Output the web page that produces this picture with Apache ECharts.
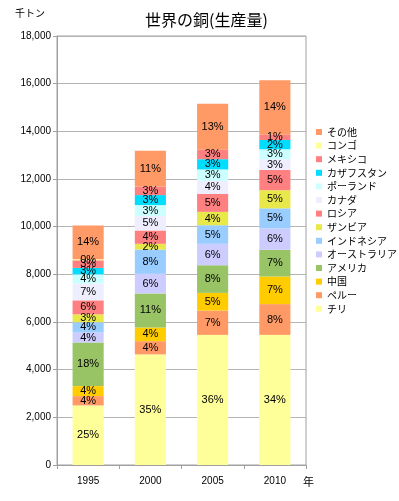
<!DOCTYPE html>
<html>
<head>
<meta charset="utf-8">
<script src="https://cdn.jsdelivr.net/npm/echarts@6/dist/echarts.min.js"></script>
<style>
  html, body { margin: 0; padding: 0; background: #fff; }
  #main { width: 399px; height: 501px; }
</style>
</head>
<body>
<div id="main"></div>
<script>
// 世界の銅(生産量) 千トン
const years = ['1995', '2000', '2005', '2010'];

const chile     = [2500, 4640, 5460, 5460];
const peru      = [390, 555, 1020, 1290];
const china     = [420, 575, 741, 1160];
const usa       = [1830, 1430, 1160, 1120];
const australia = [420, 820, 900, 900];
const indonesia = [430, 1020, 780, 840];
const zambia    = [330, 240, 560, 760];
const russia    = [590, 560, 755, 850];
const canada    = [700, 610, 545, 448];
const poland    = [390, 455, 480, 420];
const kazakh    = [270, 420, 430, 390];
const mexico    = [320, 360, 400, 220];
const congo     = [40, 0, 0, 0];
const others    = [1420, 1500, 1930, 2287];

const yTicks = [0, 2000, 4000, 6000, 8000, 10000, 12000, 14000, 16000, 18000];

// 下から積み上げ順
const names = ['チリ', 'ペルー', '中国', 'アメリカ', 'オーストラリア', 'インドネシア', 'ザンビア',
    'ロシア', 'カナダ', 'ポーランド', 'カザフスタン', 'メキシコ', 'コンゴ', 'その他'];
const values = [chile, peru, china, usa, australia, indonesia, zambia,
    russia, canada, poland, kazakh, mexico, congo, others];
const colors = ['#FFFF99', '#FF9966', '#FFCC00', '#99C466', '#CCCCFF', '#99CCFF', '#E8E84A',
    '#FF8080', '#EEEEFF', '#CCFFFF', '#00DDFF', '#FF8080', '#FFFF99', '#FF9966'];

const totals = years.map((_, i) => values.reduce((s, arr) => s + arr[i], 0));

const series = names.map((name, k) => ({
    name: name,
    type: 'bar',
    stack: 'total',
    barWidth: '50%',
    data: values[k],
    itemStyle: { color: colors[k] },
    label: {
        show: true,
        position: 'inside',
        color: '#000',
        fontSize: 11,
        fontFamily: 'Liberation Sans',
        formatter: p => p.value ? Math.round(p.value / totals[p.dataIndex] * 100) + '%' : ''
    }
}));

const chart = echarts.init(document.getElementById('main'));
chart.setOption({
    animation: false,
    color: colors,
    title: {
        text: '世界の銅(生産量)',
        left: 140,
        top: 7,
        textStyle: { fontFamily: 'Noto Sans CJK JP', fontSize: 16, fontWeight: 'normal', color: '#000' }
    },
    legend: {
        orient: 'vertical',
        left: 311,
        top: 121,
        icon: 'rect',
        itemWidth: 6,
        itemHeight: 6,
        itemGap: 1.6,
        data: names.slice().reverse(),
        textStyle: { fontFamily: 'Noto Sans CJK JP', fontSize: 10, lineHeight: 12, color: '#000' }
    },
    grid: { left: 57, right: 93, top: 36, bottom: 36, show: true, borderColor: '#A0A0A0', borderWidth: 1 },
    xAxis: {
        type: 'category',
        data: years,
        name: '年',
        nameLocation: 'end',
        nameGap: -3,
        nameTextStyle: { fontFamily: 'Noto Sans CJK JP', fontSize: 11, color: '#000', align: 'left', verticalAlign: 'top', padding: [11, 0, 0, 0] },
        axisLine: { lineStyle: { color: '#A0A0A0' } },
        axisTick: { show: true, length: 4, lineStyle: { color: '#A0A0A0' } },
        axisLabel: { color: '#000', fontSize: 10, fontFamily: 'Liberation Sans', margin: 11 }
    },
    yAxis: {
        type: 'value',
        min: yTicks[0],
        max: yTicks[yTicks.length - 1],
        interval: yTicks[1] - yTicks[0],
        name: '千トン',
        nameLocation: 'end',
        nameGap: 18,
        nameTextStyle: { fontFamily: 'Noto Sans CJK JP', fontSize: 10, color: '#000', align: 'right', padding: [0, 12, 0, 0] },
        axisLine: { show: true, lineStyle: { color: '#A0A0A0' } },
        axisTick: { show: true, length: 4, lineStyle: { color: '#A0A0A0' } },
        splitLine: { lineStyle: { color: '#B4B4B4' } },
        axisLabel: {
            color: '#000',
            fontSize: 10,
            fontFamily: 'Liberation Sans',
            margin: 6,
            formatter: v => v.toLocaleString('en-US')
        }
    },
    series: series
});
</script>
</body>
</html>
